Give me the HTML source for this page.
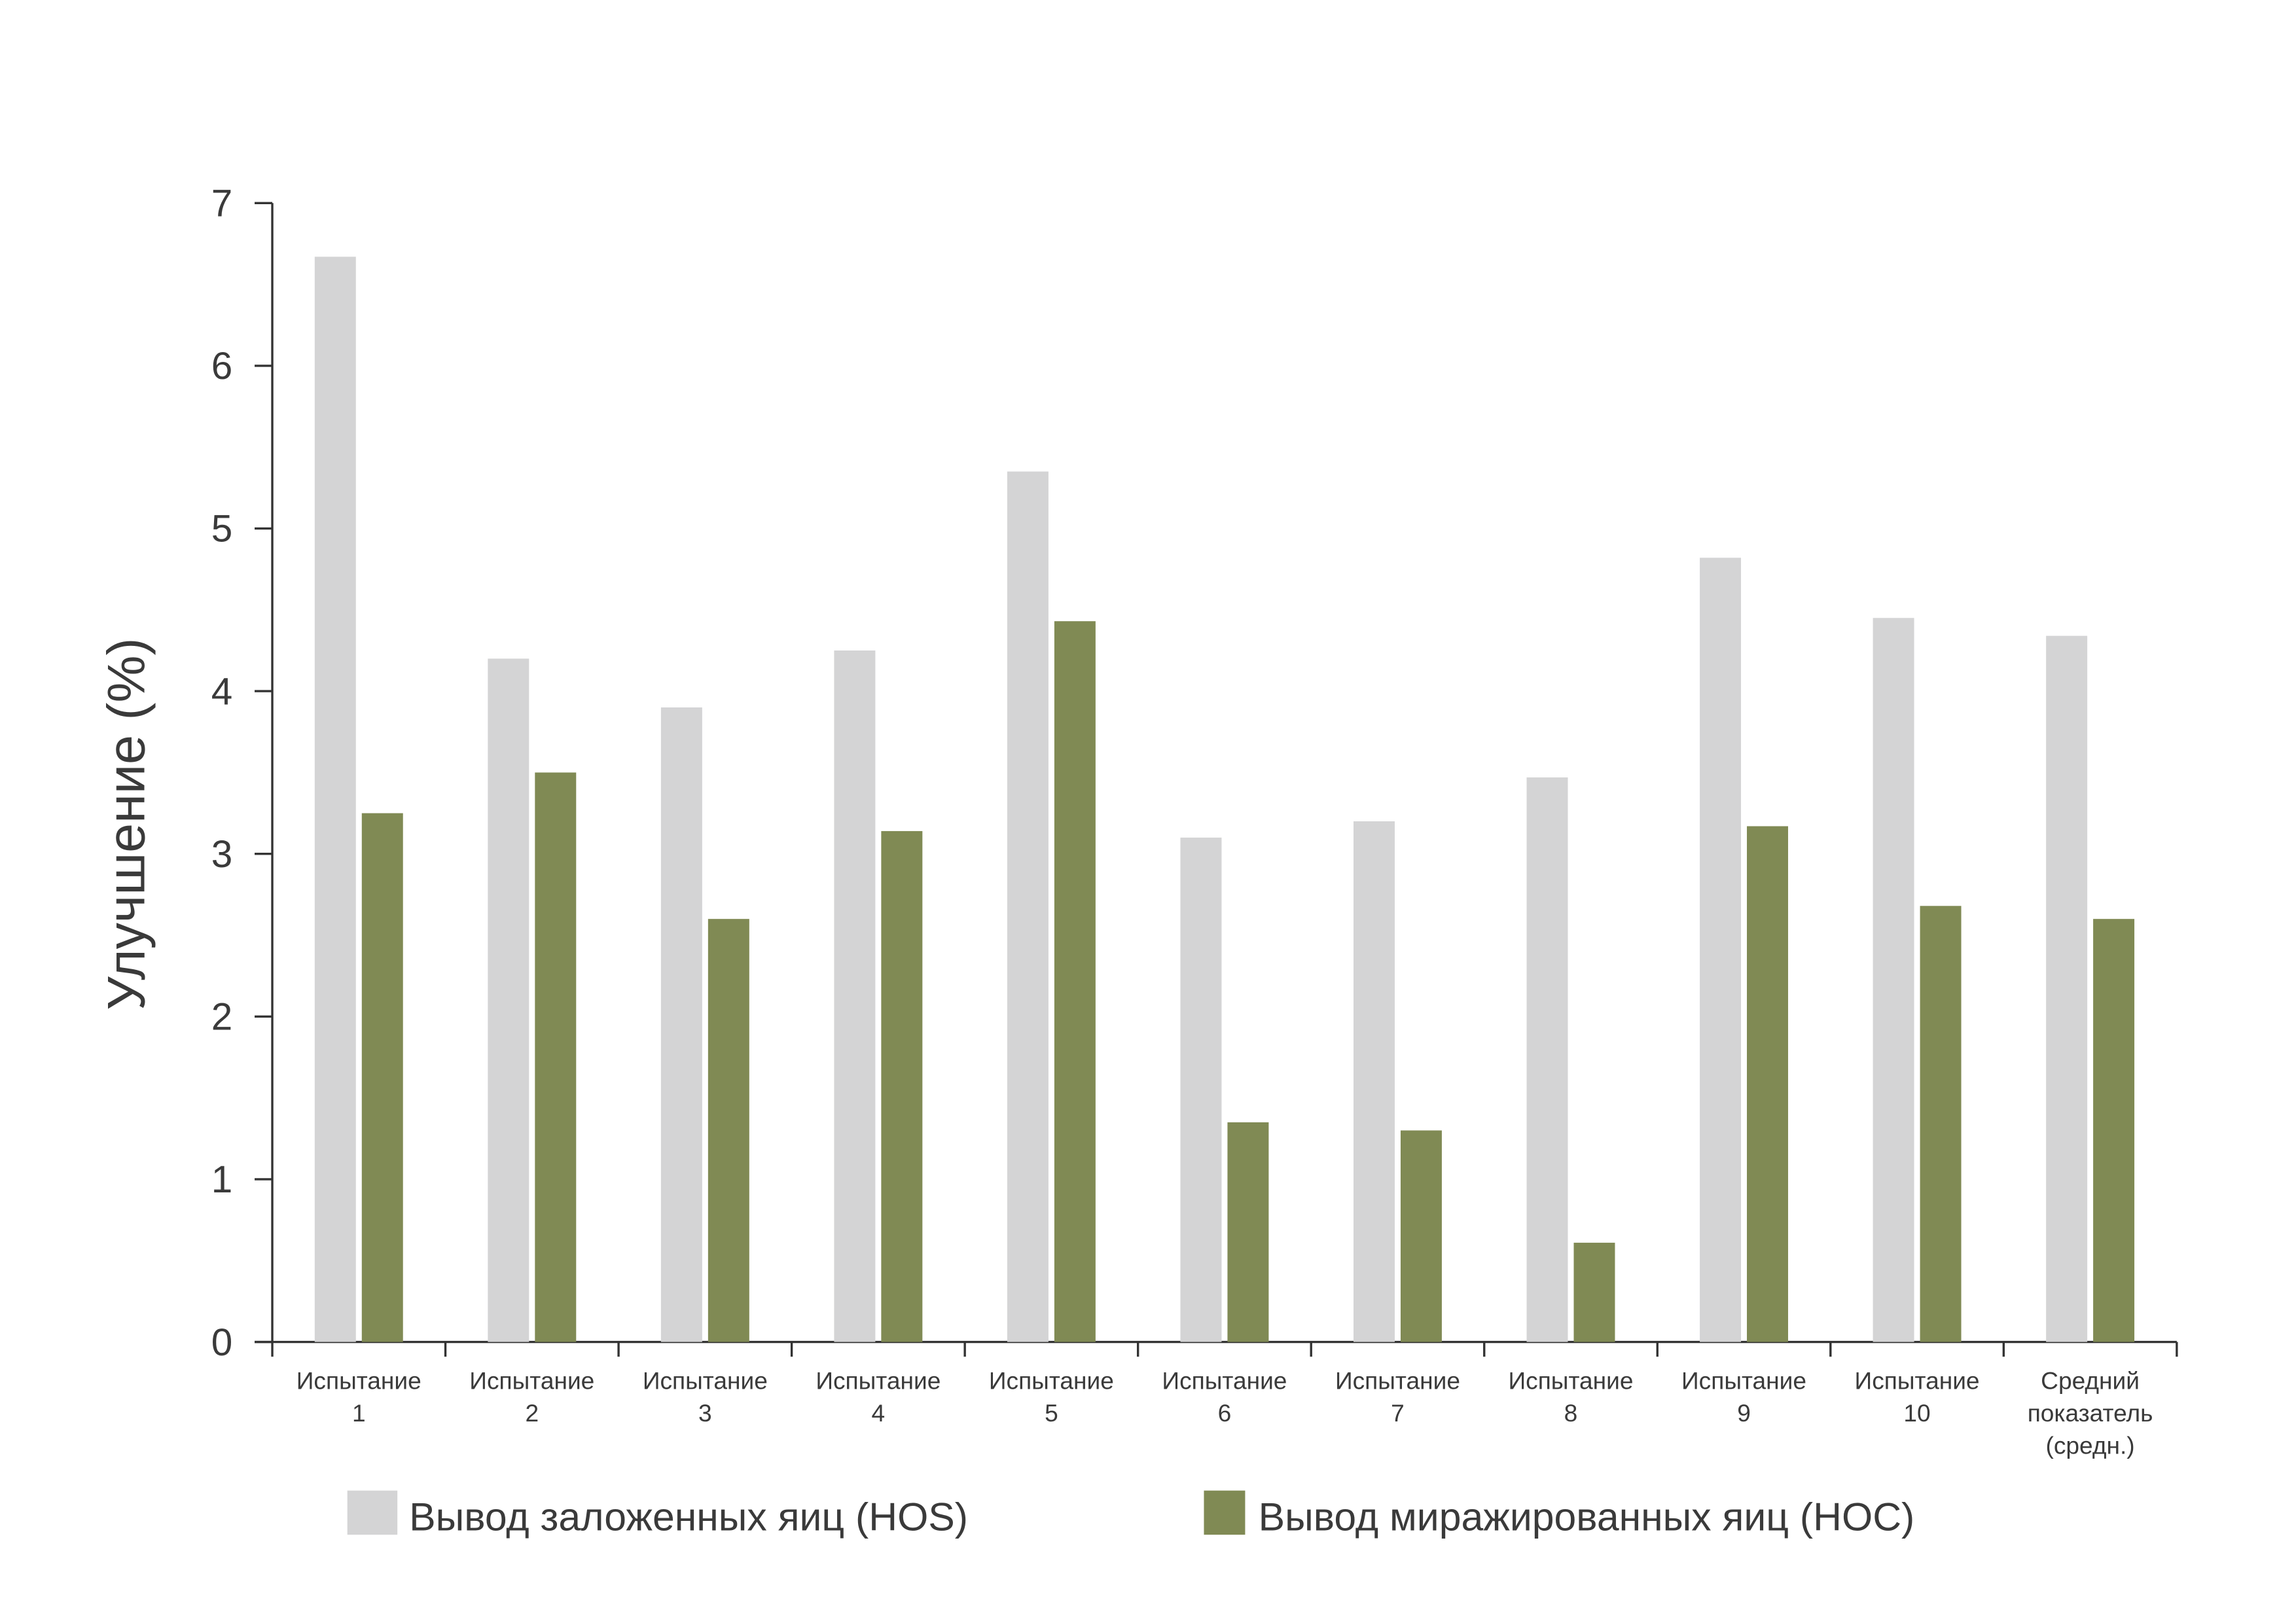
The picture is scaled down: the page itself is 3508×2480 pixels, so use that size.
<!DOCTYPE html>
<html><head><meta charset="utf-8"><style>
html,body{margin:0;padding:0;background:#fff;}
svg{display:block;}
text{font-family:"Liberation Sans","DejaVu Sans",sans-serif;fill:#3a3a3a;}
</style></head><body>
<svg id="chart" width="3508" height="2480" viewBox="0 0 1560 1103" preserveAspectRatio="none" xmlns="http://www.w3.org/2000/svg">
<g id="axes"></g>
<g id="bars"></g>
<text transform="translate(98,560) rotate(-90)" text-anchor="middle" font-size="36">Улучшение (%)</text>
<rect x="236" y="1013" width="34" height="30" fill="#d4d4d5"/>
<text x="278" y="1040" font-size="27">Вывод заложенных яиц (HOS)</text>
<rect x="818" y="1013" width="28" height="30" fill="#808a54"/>
<text x="855" y="1040" font-size="27">Вывод миражированных яиц (HOC)</text>
</svg>
<script>
const categories=[["Испытание","1"],["Испытание","2"],["Испытание","3"],["Испытание","4"],["Испытание","5"],["Испытание","6"],["Испытание","7"],["Испытание","8"],["Испытание","9"],["Испытание","10"],["Средний","показатель","(средн.)"]];
const hosValues=[6.67,4.2,3.9,4.25,5.35,3.1,3.2,3.47,4.82,4.45,4.34];
const hocValues=[3.25,3.5,2.6,3.14,4.43,1.35,1.3,0.61,3.17,2.68,2.6];
const yTicks=[0,1,2,3,4,5,6,7];
const NS="http://www.w3.org/2000/svg";
const X0=185,X1=1479,Y0=912,Y7=138;
const bandW=(X1-X0)/categories.length;
function y(v){return Y0-(Y0-Y7)*v/7;}
function xc(i){return X0+bandW*(i+0.5);}
function mk(tag,attrs,parent){const e=document.createElementNS(NS,tag);for(const k in attrs)e.setAttribute(k,attrs[k]);parent.appendChild(e);return e;}
const axes=document.getElementById('axes'),bars=document.getElementById('bars');
let l=mk('line',{x1:X0,y1:Y7,x2:X0,y2:Y0,stroke:'#333','stroke-width':1.5},axes);


l=mk('line',{x1:X0-12,y1:Y0,x2:X1,y2:Y0,stroke:'#333','stroke-width':1.5},axes);


yTicks.forEach(t=>{
 const tk=mk('line',{x1:X0-12,y1:y(t),x2:X0,y2:y(t),stroke:'#333','stroke-width':1.5},axes);
 
 
 const tx=mk('text',{x:158,y:y(t)+9,'text-anchor':'end','font-size':26},axes);
 tx.textContent=t;
 
 
});
for(let i=0;i<=categories.length;i++){
 const xx=X0+bandW*i;
 const tk=mk('line',{x1:xx,y1:Y0,x2:xx,y2:Y0+10,stroke:'#333','stroke-width':1.5},axes);
 
 
}
categories.forEach((c,i)=>{
 const tx=mk('text',{x:xc(i),y:944,'text-anchor':'middle','font-size':16.5},axes);
 
 
 c.forEach((line,j)=>{const ts=mk('tspan',{x:xc(i),dy:j?22:0},tx);ts.textContent=line;});
 const g=mk('rect',{x:xc(i)-30,y:y(hosValues[i]),width:28,height:Y0-y(hosValues[i]),fill:'#d4d4d5'},bars);
 
 
 const h=mk('rect',{x:xc(i)+2,y:y(hocValues[i]),width:28,height:Y0-y(hocValues[i]),fill:'#808a54'},bars);
 
 
});
</script>
</body></html>
